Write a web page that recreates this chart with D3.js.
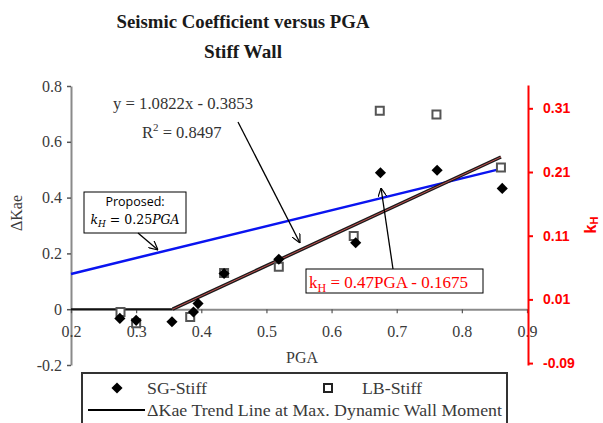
<!DOCTYPE html>
<html><head><meta charset="utf-8">
<script src="https://cdn.jsdelivr.net/npm/d3@7"></script>
<style>body{margin:0;background:#fff}svg{display:block}</style>
</head><body>
<script>
// ---- data ----
const sgPGA   = [0.275, 0.300, 0.355, 0.388, 0.395, 0.435, 0.519, 0.637, 0.675, 0.762, 0.862];
const sgKae   = [-0.033, -0.040, -0.045, -0.010, 0.020, 0.128, 0.179, 0.238, 0.489, 0.498, 0.433];
const lbPGA   = [0.276, 0.300, 0.383, 0.435, 0.519, 0.634, 0.674, 0.761, 0.860];
const lbKae   = [-0.010, -0.050, -0.028, 0.130, 0.152, 0.262, 0.711, 0.698, 0.508];
const xTicks  = [0.2, 0.3, 0.4, 0.5, 0.6, 0.7, 0.8, 0.9];
const yTicks  = [-0.2, 0, 0.2, 0.4, 0.6, 0.8];
const kTicks  = [-0.09, 0.01, 0.11, 0.21, 0.31];
const trendSlope = 1.0822, trendIntercept = -0.3853;
const kSlope = 0.47, kIntercept = -0.1675;
const propSlope = 0.25;
const trendRange = [0.2, 0.86];
const propRange = [0.2, 0.855];

const W = 603, H = 423;
const svg = d3.select("body").append("svg").attr("width", W).attr("height", H);
const x = d3.scaleLinear().domain([0.2, 0.9]).range([71, 527]);
const y = d3.scaleLinear().domain([-0.2, 0.8]).range([365, 86]);
const yR = d3.scaleLinear().domain([-0.093, 0.3466]).range([365, 85]);
const serif = "'Liberation Serif', 'Times New Roman', serif";
const sans = "'Liberation Sans', Arial, sans-serif";
const axisGray = "#8a8a8a", textGray = "#3a3a3a";
const hy = s => s.replace("\u2212", "-");

// title
svg.append("text").attr("x", 243).attr("y", 28).attr("text-anchor", "middle")
  .attr("font-family", serif).attr("font-weight", "bold").attr("font-size", 19).attr("fill", "#1a1a1a")
  .attr("textLength", 253).attr("lengthAdjust", "spacingAndGlyphs")
  .text("Seismic Coefficient versus PGA");
svg.append("text").attr("x", 243).attr("y", 58).attr("text-anchor", "middle")
  .attr("font-family", serif).attr("font-weight", "bold").attr("font-size", 19).attr("fill", "#1a1a1a")
  .attr("textLength", 78).attr("lengthAdjust", "spacingAndGlyphs")
  .text("Stiff Wall");

// left axis
const ga = svg.append("g").attr("transform", `translate(${x(0.2)},0)`)
  .call(d3.axisLeft(y).tickValues(yTicks).tickFormat(d => d === 0 ? "0" : hy(d3.format(".1f")(d))).tickSize(4).tickSizeOuter(0));
ga.select(".domain").attr("stroke", axisGray).attr("stroke-width", 2);
ga.selectAll(".tick line").attr("stroke", "#555").attr("stroke-width", 1.5);
ga.selectAll(".tick text").attr("font-family", serif).attr("font-size", 16).attr("fill", textGray).attr("x", -9);
svg.append("text").attr("transform", `translate(22,${213}) rotate(-90)`).attr("text-anchor", "middle")
  .attr("font-family", serif).attr("font-size", 16).attr("fill", textGray).text("ΔKae");

// x axis at y=0
const gx = svg.append("g").attr("transform", `translate(0,${y(0)})`)
  .call(d3.axisBottom(x).tickValues(xTicks).tickFormat(d3.format(".1f")).tickSize(4).tickSizeOuter(0));
gx.select(".domain").attr("stroke", axisGray).attr("stroke-width", 2);
gx.selectAll(".tick line").attr("stroke", "#555").attr("stroke-width", 1.2);
gx.selectAll(".tick text").attr("font-family", serif).attr("font-size", 16).attr("fill", textGray).attr("y", 16);
svg.append("text").attr("x", 302).attr("y", 363).attr("text-anchor", "middle")
  .attr("font-family", serif).attr("font-size", 16).attr("fill", textGray).text("PGA");

// right axis
const gr = svg.append("g").attr("transform", `translate(528,0)`)
  .call(d3.axisRight(yR).tickValues(kTicks).tickFormat(d => hy(d3.format(".2f")(d))).tickSize(5).tickSizeOuter(0));
gr.select(".domain").attr("stroke", "#ff0000").attr("stroke-width", 2);
gr.selectAll(".tick line").attr("stroke", "#ff0000").attr("stroke-width", 2);
gr.selectAll(".tick text").attr("font-family", sans).attr("font-weight", "bold")
  .attr("font-size", 14).attr("fill", "#ff0000").attr("x", 15);
const kl = svg.append("text").attr("transform", `translate(596,225) rotate(-90)`).attr("text-anchor", "middle")
  .attr("font-family", sans).attr("font-weight", "bold").attr("font-size", 16).attr("fill", "#ff0000");
kl.append("tspan").text("k");
kl.append("tspan").attr("font-size", 11).attr("dy", 2).text("H");

// zero-part of trend line (black horizontal)
const x0 = -trendIntercept / trendSlope;
svg.append("line").attr("x1", x(0.2)).attr("x2", x(x0)).attr("y1", y(0)).attr("y2", y(0))
  .attr("stroke", "#111").attr("stroke-width", 2);

// blue proposed line (right axis)
const line = d3.line();
svg.append("path").attr("d", line(propRange.map(p => [x(p), yR(propSlope * p)])))
  .attr("stroke", "#0a14f0").attr("stroke-width", 2.5).attr("fill", "none");

// trend line (black) with red kH overlay
svg.append("path").attr("d", line([x0, trendRange[1]].map(p => [x(p), y(trendSlope * p + trendIntercept)])))
  .attr("stroke", "#1a1a1a").attr("stroke-width", 3.5).attr("fill", "none");
svg.append("path").attr("d", line([x0, trendRange[1]].map(p => [x(p), y(trendSlope * p + trendIntercept)])))
  .attr("stroke", "#c05050").attr("stroke-width", 1).attr("fill", "none");

// markers
const sqSym = d3.symbol().type(d3.symbolSquare).size(64);
const dmSym = d3.symbol().type(d3.symbolSquare).size(62);
svg.append("g").selectAll("path").data(lbPGA.map((p, i) => [p, lbKae[i]])).join("path")
  .attr("d", sqSym).attr("transform", d => `translate(${x(d[0])},${y(d[1])})`)
  .attr("fill", "#fff").attr("stroke", "#555").attr("stroke-width", 2);
svg.append("g").selectAll("path").data(sgPGA.map((p, i) => [p, sgKae[i]])).join("path")
  .attr("d", dmSym).attr("transform", d => `translate(${x(d[0])},${y(d[1])}) rotate(45)`)
  .attr("fill", "#000");

// arrow marker
const defs = svg.append("defs");
defs.append("marker").attr("id", "arr").attr("viewBox", "0 0 10 10").attr("refX", 10).attr("refY", 5)
  .attr("markerWidth", 9).attr("markerHeight", 9).attr("orient", "auto-start-reverse").attr("markerUnits", "userSpaceOnUse")
  .append("path").attr("d", "M0,0 L10,5 L0,10").attr("fill", "none").attr("stroke", "#000").attr("stroke-width", 1.3);

// equation annotation
svg.append("text").attr("x", 113).attr("y", 109).attr("font-family", serif).attr("font-size", 16.5).attr("fill", "#333")
  .attr("textLength", 140).attr("lengthAdjust", "spacingAndGlyphs")
  .text("y = 1.0822x - 0.3853");
const r2 = svg.append("text").attr("x", 142).attr("y", 138).attr("font-family", serif).attr("font-size", 16.5).attr("fill", "#333");
r2.append("tspan").text("R");
r2.append("tspan").attr("font-size", 11).attr("dy", -7).text("2");
r2.append("tspan").attr("dy", 7).text(" = 0.8497");
svg.append("line").attr("x1", 238).attr("y1", 122).attr("x2", 300).attr("y2", 243)
  .attr("stroke", "#000").attr("stroke-width", 1.3).attr("marker-end", "url(#arr)");

// proposed box
svg.append("rect").attr("x", 84).attr("y", 192).attr("width", 102).attr("height", 41)
  .attr("fill", "#fff").attr("stroke", "#000").attr("stroke-width", 1);
svg.append("text").attr("x", 135).attr("y", 206).attr("text-anchor", "middle")
  .attr("font-family", "'Open Sans', 'Noto Sans', sans-serif").attr("font-size", 12.5).attr("fill", "#000").text("Proposed:");
const pk = svg.append("text").attr("x", 135).attr("y", 224).attr("text-anchor", "middle")
  .attr("font-family", "'DejaVu Serif', serif").attr("font-size", 12.5).attr("fill", "#000");
pk.append("tspan").attr("font-style", "italic").text("k");
pk.append("tspan").attr("font-style", "italic").attr("font-size", 9).attr("dy", 3).text("H");
pk.append("tspan").attr("dy", -3).text(" = 0.25");
pk.append("tspan").attr("font-style", "italic").text("PGA");
svg.append("line").attr("x1", 138).attr("y1", 233).attr("x2", 158).attr("y2", 250)
  .attr("stroke", "#000").attr("stroke-width", 1.3).attr("marker-end", "url(#arr)");

// red kH box
svg.append("line").attr("x1", 393).attr("y1", 269).attr("x2", 381).attr("y2", 188)
  .attr("stroke", "#000").attr("stroke-width", 1.3).attr("marker-end", "url(#arr)");
svg.append("rect").attr("x", 306).attr("y", 269).attr("width", 177).attr("height", 24)
  .attr("fill", "#fff").attr("stroke", "#000").attr("stroke-width", 1);
const rk = svg.append("text").attr("x", 309).attr("y", 288).attr("font-family", serif).attr("font-size", 17).attr("fill", "#ff0000");
rk.append("tspan").text("k");
rk.append("tspan").attr("font-size", 12).attr("dy", 4).text("H");
rk.append("tspan").attr("dy", -4).text(" = 0.47PGA - 0.1675");

// legend
svg.append("rect").attr("x", 82).attr("y", 373).attr("width", 425).attr("height", 60)
  .attr("fill", "#fff").attr("stroke", "#333").attr("stroke-width", 2);
svg.append("path").attr("d", dmSym).attr("transform", "translate(117,388) rotate(45)").attr("fill", "#000");
svg.append("text").attr("x", 147).attr("y", 394).attr("font-family", serif).attr("font-size", 17).attr("fill", textGray)
  .attr("textLength", 60).attr("lengthAdjust", "spacingAndGlyphs").text("SG-Stiff");
svg.append("path").attr("d", sqSym).attr("transform", "translate(328,388)").attr("fill", "#fff").attr("stroke", "#222").attr("stroke-width", 2);
svg.append("text").attr("x", 362).attr("y", 394).attr("font-family", serif).attr("font-size", 17).attr("fill", textGray)
  .attr("textLength", 60).attr("lengthAdjust", "spacingAndGlyphs").text("LB-Stiff");
svg.append("line").attr("x1", 88).attr("x2", 145).attr("y1", 410).attr("y2", 410).attr("stroke", "#000").attr("stroke-width", 2);
svg.append("text").attr("x", 147).attr("y", 416).attr("font-family", serif).attr("font-size", 17).attr("fill", textGray)
  .attr("textLength", 355).attr("lengthAdjust", "spacingAndGlyphs")
  .text("ΔKae Trend Line at Max. Dynamic Wall Moment");
</script>
</body></html>
